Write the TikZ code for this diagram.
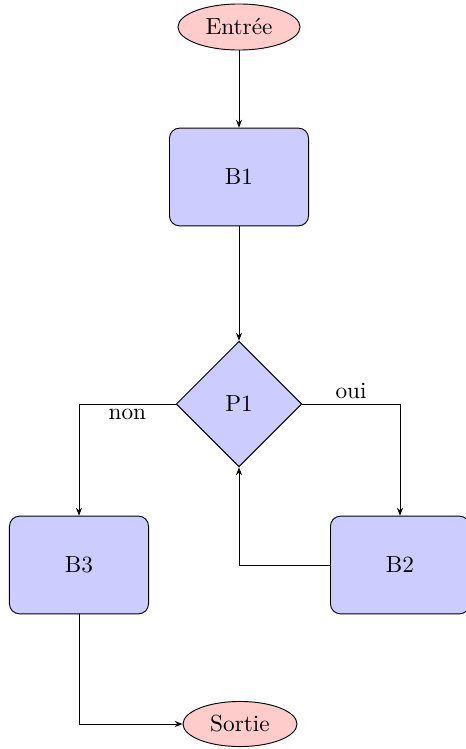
\documentclass[tikz,border=0pt]{standalone}
\usetikzlibrary{shapes.geometric,arrows.meta}
\begin{document}
\begin{tikzpicture}[x=0.43pt,y=-0.43pt,
  blockbox/.style={draw, fill=blue!20, rectangle, rounded corners=4.3pt, minimum width=59.8pt, minimum height=42pt, inner sep=0pt},
  termbox/.style={draw, fill=red!20, ellipse, inner sep=0pt},
  decbox/.style={draw, fill=blue!20, diamond, minimum width=54pt, minimum height=54pt, inner sep=0pt},
  arr/.style={-{Stealth[length=3.4pt,width=2.6pt]}}]
\useasboundingbox (0,0) rectangle (465,749);
\node[termbox, minimum width=52.5pt, minimum height=19.8pt] (E) at (239,27) {Entrée};
\node[blockbox] (B1) at (239,177) {B1};
\node[decbox] (P1) at (239,404) {P1};
\node[blockbox] (B3) at (79,565) {B3};
\node[blockbox] (B2) at (400,565) {B2};
\node[termbox, minimum width=49pt, minimum height=19.4pt] (S) at (240,724) {Sortie};
\draw[arr] (E) -- (B1);
\draw[arr] (B1) -- (P1);
\draw[arr] (P1.east) -| node[pos=0.25, above, inner sep=2pt] {oui} (B2.north);
\draw[arr] (P1.west) -| node[pos=0.25, below, inner sep=2pt] {non} (B3.north);
\draw[arr] (B2.west) -| (P1.south);
\draw[arr] (B3.south) |- (S.west);
\end{tikzpicture}
\end{document}
